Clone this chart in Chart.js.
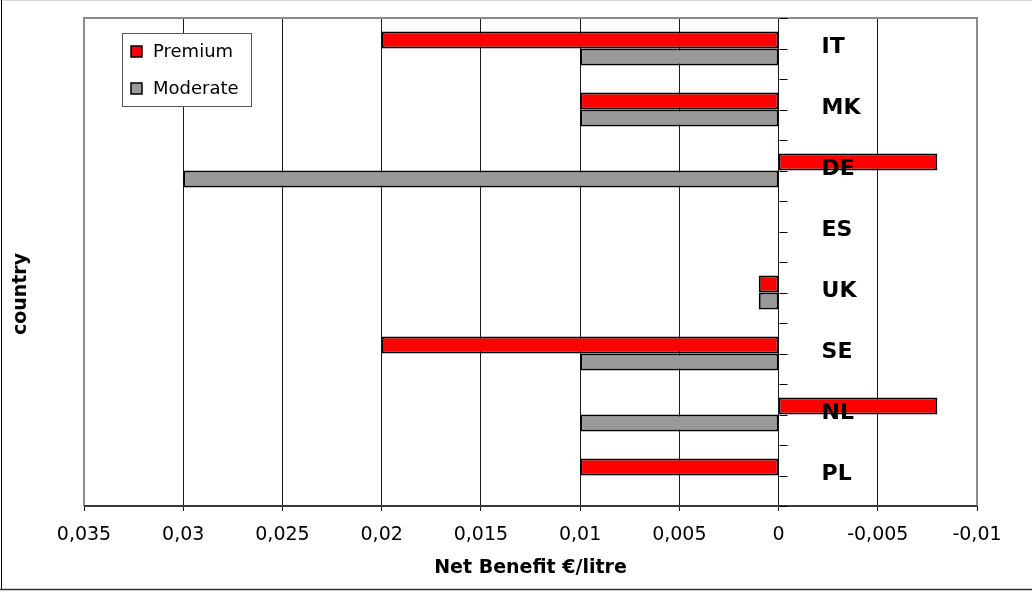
<!DOCTYPE html>
<html>
<head>
<meta charset="utf-8">
<script src="https://cdn.jsdelivr.net/npm/chart.js@4/dist/chart.umd.min.js"></script>
<style>
  html, body { margin: 0; padding: 0; background: #fff; }
  #wrap { width: 1032px; height: 592px; }
</style>
</head>
<body>
<div id="wrap"><canvas id="c" width="1032" height="592"></canvas></div>
<script>
// Net benefit per litre by country, two scenarios
const countries = ['IT', 'MK', 'DE', 'ES', 'UK', 'SE', 'NL', 'PL'];
const premium   = [0.02, 0.01, -0.008, 0, 0.001, 0.02, -0.008, 0.01];
const moderate  = [0.01, 0.01, 0.03, 0, 0.001, 0.01, 0.01, 0];
const seriesNames = ['Premium', 'Moderate'];
const xMin = -0.01, xMax = 0.035, xStep = 0.005;
const xTitle = 'Net Benefit €/litre';
const yTitle = 'country';

const FONT = "'DejaVu Sans', 'Liberation Sans', sans-serif";
const colors = { premium: '#ff0000', moderate: '#999999' };

function fmt(v) {
  const s = String(parseFloat(Number(v).toFixed(4)));
  return s.replace('.', ',');
}

// White page with the outer chart frame
const framePlugin = {
  id: 'frame',
  beforeDraw(chart) {
    const ctx = chart.ctx, w = chart.width, h = chart.height;
    ctx.save();
    ctx.fillStyle = '#fff';
    ctx.fillRect(0, 0, w, h);
    ctx.strokeStyle = '#d4d4d4';
    ctx.lineWidth = 1;
    ctx.beginPath(); ctx.moveTo(0, 0.5); ctx.lineTo(w, 0.5); ctx.stroke();
    ctx.strokeStyle = '#000';
    ctx.beginPath(); ctx.moveTo(1.5, 0); ctx.lineTo(1.5, h - 2); ctx.stroke();
    ctx.strokeStyle = '#333';
    ctx.lineWidth = 1.5;
    ctx.beginPath(); ctx.moveTo(0, h - 2.5); ctx.lineTo(w, h - 2.5); ctx.stroke();
    ctx.restore();
  }
};

// Plot-area border and the category tick marks on the zero axis
const plotFramePlugin = {
  id: 'plotFrame',
  beforeDatasetsDraw(chart) {
    const { ctx, chartArea: a, scales } = chart;
    ctx.save();
    ctx.strokeStyle = '#8c8c8c';
    ctx.lineWidth = 2;
    ctx.beginPath();
    ctx.moveTo(a.left, a.bottom); ctx.lineTo(a.left, a.top);
    ctx.lineTo(a.right, a.top); ctx.lineTo(a.right, a.bottom);
    ctx.stroke();
    ctx.strokeStyle = '#3a3a3a';
    ctx.beginPath(); ctx.moveTo(a.left, a.bottom); ctx.lineTo(a.right, a.bottom); ctx.stroke();

    const x0 = Math.round(scales.x.getPixelForValue(0)) + 0.5;
    ctx.strokeStyle = '#000';
    ctx.lineWidth = 1;
    ctx.beginPath();
    for (let i = 0; i <= countries.length * 2; i++) {
      const y = Math.round(scales.y.getPixelForValue(i / 2 - 0.5)) + 0.5;
      ctx.moveTo(x0, y); ctx.lineTo(x0 + 8, y);
    }
    ctx.stroke();
    ctx.restore();
  }
};

// Category names drawn beside the zero axis, over the bars
const categoryLabelPlugin = {
  id: 'categoryLabels',
  afterDatasetsDraw(chart) {
    const { ctx, scales } = chart;
    const x = scales.x.getPixelForValue(0) + 43;
    ctx.save();
    ctx.font = 'bold 22px ' + FONT;
    ctx.fillStyle = '#000';
    ctx.textAlign = 'left';
    ctx.textBaseline = 'middle';
    countries.forEach((c, i) => {
      ctx.fillText(c, x, scales.y.getPixelForValue(i) - 1);
    });
    ctx.restore();
  }
};

// Boxed legend in the upper-left of the plot and the vertical axis title
const legendPlugin = {
  id: 'boxLegend',
  afterDraw(chart) {
    const { ctx, chartArea: a } = chart;
    ctx.save();
    const bx = a.left + 38, by = a.top + 15, bw = 129, bh = 73;
    ctx.fillStyle = '#fff';
    ctx.fillRect(bx, by, bw, bh);
    ctx.strokeStyle = '#555';
    ctx.lineWidth = 1;
    ctx.strokeRect(bx + 0.5, by + 0.5, bw, bh);
    const fills = [colors.premium, colors.moderate];
    ctx.font = '18px ' + FONT;
    ctx.textBaseline = 'middle';
    ctx.textAlign = 'left';
    seriesNames.forEach((name, i) => {
      const cy = by + 19 + i * 37;
      ctx.fillStyle = fills[i];
      ctx.fillRect(bx + 9, cy - 6, 11, 11);
      ctx.strokeStyle = '#000';
      ctx.lineWidth = 1.5;
      ctx.strokeRect(bx + 9, cy - 6, 11, 11);
      ctx.fillStyle = '#000';
      ctx.fillText(name, bx + 31, cy);
    });

    ctx.translate(21, 294);
    ctx.rotate(-Math.PI / 2);
    ctx.font = 'bold 19px ' + FONT;
    ctx.textAlign = 'center';
    ctx.fillText(yTitle, 0, 0);
    ctx.restore();
  }
};

new Chart(document.getElementById('c'), {
  type: 'bar',
  data: {
    labels: countries,
    datasets: [
      { label: seriesNames[0], data: premium, backgroundColor: colors.premium },
      { label: seriesNames[1], data: moderate, backgroundColor: colors.moderate }
    ]
  },
  options: {
    indexAxis: 'y',
    responsive: false,
    animation: false,
    devicePixelRatio: 1,
    layout: { padding: { top: 18, right: 55, bottom: 0, left: 0 } },
    datasets: {
      bar: {
        borderColor: '#000',
        borderWidth: 2,
        borderSkipped: false,
        barPercentage: 1,
        categoryPercentage: 0.557
      }
    },
    plugins: { legend: { display: false }, tooltip: { enabled: false } },
    scales: {
      x: {
        type: 'linear',
        reverse: true,
        min: xMin,
        max: xMax,
        afterFit(scale) { scale.height = 86; },
        ticks: {
          stepSize: xStep,
          color: '#000',
          padding: 13,
          maxRotation: 0,
          font: { family: FONT, size: 19 },
          callback: (v) => fmt(v)
        },
        grid: { color: '#1a1a1a', lineWidth: 1, tickLength: 5, drawTicks: true },
        border: { display: false },
        title: {
          display: true,
          text: xTitle,
          color: '#000',
          font: { family: FONT, size: 19, weight: 'bold' },
          padding: { top: 0, bottom: 13 }
        }
      },
      y: {
        type: 'category',
        afterFit(scale) { scale.width = 84; },
        ticks: { display: false },
        grid: { display: false },
        border: { display: false }
      }
    }
  },
  plugins: [framePlugin, plotFramePlugin, categoryLabelPlugin, legendPlugin]
});
</script>
</body>
</html>
